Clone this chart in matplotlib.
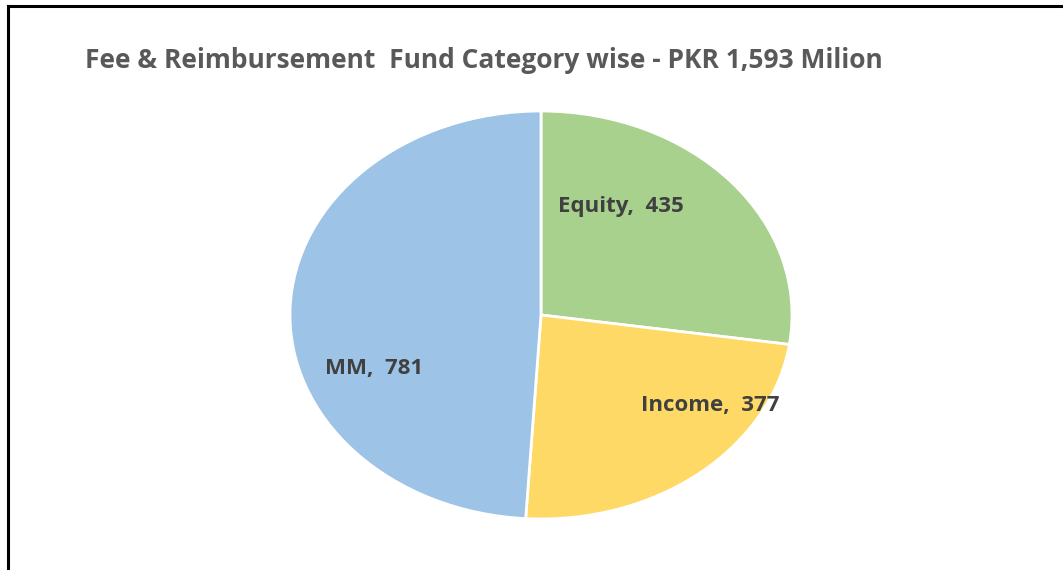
import matplotlib.pyplot as plt
from matplotlib.lines import Line2D

# data
categories = ['Equity', 'Income', 'MM']
values = [435, 377, 781]
colors = ['#A9D18E', '#FFD966', '#9DC3E6']
# label positions (axes data units, pie radius = 1)
label_x = [0.320, 0.673, -0.665]
label_y = [0.534, -0.446, -0.260]

title = 'Fee & Reimbursement  Fund Category wise - PKR 1,593 Milion'

fig = plt.figure(figsize=(10.63, 5.70), dpi=100)
W, H = 1063, 570

# outer frame (only left and top visible)
fig.add_artist(Line2D([8 / W, 8 / W], [0, 1 - 6 / H], color='black', lw=2.2, transform=fig.transFigure))
fig.add_artist(Line2D([8 / W, 1], [1 - 6 / H, 1 - 6 / H], color='black', lw=2.2, transform=fig.transFigure))

fig.text(85 / W, 1 - 60 / H, title, fontsize=19, fontweight='bold', color='#595959',
         family='Open Sans', va='center', ha='left')

ax = fig.add_axes([290 / W, 51 / H, 502 / W, 408 / H])
ax.pie(values, colors=colors, startangle=90, counterclock=False,
       wedgeprops=dict(edgecolor='white', linewidth=2))
ax.set_aspect('auto')
ax.set_xlim(-1, 1)
ax.set_ylim(-1, 1)

for c, v, x, y in zip(categories, values, label_x, label_y):
    ax.text(x, y, f'{c},  {v}', fontsize=16, fontweight='bold', color='#404040',
            family='Open Sans', ha='center', va='center')

fig.savefig('out.png', dpi=100)
